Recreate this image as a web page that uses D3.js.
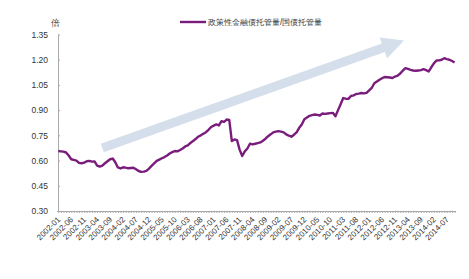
<!DOCTYPE html>
<html>
<head>
<meta charset="utf-8">
<script src="https://cdn.jsdelivr.net/npm/d3@7"></script>
<style>
  body { margin: 0; background: #fff; }
  svg text { font-family: "Liberation Sans", Arial, sans-serif; fill: #333; }
</style>
</head>
<body>
<svg id="svg" width="469" height="279"></svg>
<script>
// month labels 2002-01 .. 2014-10
var months = [];
for (var y = 2002; y <= 2014; y++) {
  for (var m = 1; m <= 12; m++) {
    if (y == 2014 && m > 10) break;
    months.push(y + "-" + (m < 10 ? "0" + m : m));
  }
}

var ratio = [
  0.657, 0.655, 0.653, 0.648, 0.630, 0.608, 0.604, 0.600, 0.586, 0.584,
  0.588, 0.596, 0.598, 0.594, 0.595, 0.570, 0.564, 0.570, 0.584, 0.596,
  0.608, 0.612, 0.590, 0.559, 0.553, 0.560, 0.558, 0.554, 0.556, 0.557,
  0.548, 0.538, 0.533, 0.534, 0.539, 0.552, 0.568, 0.583, 0.598, 0.606,
  0.614, 0.621, 0.630, 0.642, 0.650, 0.657, 0.655, 0.663, 0.672, 0.684,
  0.690, 0.705, 0.716, 0.728, 0.742, 0.750, 0.760, 0.769, 0.783, 0.800,
  0.808, 0.815, 0.809, 0.834, 0.830, 0.844, 0.842, 0.716, 0.726, 0.722,
  0.665, 0.627, 0.655, 0.672, 0.700, 0.696, 0.700, 0.704, 0.708, 0.718,
  0.730, 0.745, 0.756, 0.768, 0.772, 0.775, 0.772, 0.768, 0.756, 0.748,
  0.742, 0.754, 0.768, 0.795, 0.815, 0.846, 0.856, 0.866, 0.870, 0.874,
  0.872, 0.868, 0.880, 0.878, 0.880, 0.882, 0.884, 0.864, 0.900, 0.935,
  0.972, 0.968, 0.967, 0.984, 0.988, 0.996, 0.998, 1.002, 1.000, 1.003,
  1.018, 1.032, 1.060, 1.070, 1.081, 1.090, 1.097, 1.096, 1.094, 1.091,
  1.100, 1.105, 1.118, 1.135, 1.150, 1.145, 1.140, 1.136, 1.134, 1.136,
  1.138, 1.144, 1.138, 1.130, 1.155, 1.178, 1.195, 1.196, 1.200, 1.209,
  1.204, 1.200, 1.192, 1.183
];

var yTicks = [0.30, 0.45, 0.60, 0.75, 0.90, 1.05, 1.20, 1.35];
var seriesName = "政策性金融债托管量/国债托管量";
var unitLabel = "倍";
// trend arrow, in data terms: [month index, value]
var arrowFrom = [17, 0.675], arrowTo = [133.5, 1.315];

var svg = d3.select("#svg");

var x = d3.scalePoint()
    .domain(months)
    .range([58.3, 454.6]);

var y = d3.scaleLinear()
    .domain([0.30, 1.35])
    .range([211, 34.5]);

// trend arrow (behind the line)
var ax0 = x(months[arrowFrom[0]]), ay0 = y(arrowFrom[1]),
    ax1 = x(months[Math.floor(arrowTo[0])]) + (arrowTo[0] % 1) * x.step(), ay1 = y(arrowTo[1]);
var ang = Math.atan2(ay1 - ay0, ax1 - ax0);
var headLen = 22, headW = 11, shaftW = 4.5;
function pt(d, s) {
  return [ax0 + Math.cos(ang) * d - Math.sin(ang) * s,
          ay0 + Math.sin(ang) * d + Math.cos(ang) * s];
}
var L = Math.hypot(ax1 - ax0, ay1 - ay0);
var arrowPts = [pt(0, -shaftW), pt(L - headLen, -shaftW), pt(L - headLen, -headW),
                pt(L, 0), pt(L - headLen, headW), pt(L - headLen, shaftW), pt(0, shaftW)];
svg.append("polygon")
    .attr("points", arrowPts.map(function(p) { return p.join(","); }).join(" "))
    .attr("fill", "#d5dfeb");

// y axis
var yAxis = svg.append("g")
    .attr("transform", "translate(58,0)")
    .call(d3.axisRight(y).tickValues(yTicks).tickSize(2).tickFormat(d3.format(".2f")));
yAxis.select(".domain").attr("stroke", "#aaa").attr("d", "M0.5,34.5V211");
yAxis.selectAll(".tick line").attr("stroke", "#aaa");
yAxis.selectAll(".tick text")
    .attr("x", -10)
    .attr("text-anchor", "end")
    .attr("font-size", "8.5px")
    .attr("font-family", "Liberation Sans, Arial, sans-serif")
    .attr("fill", "#333");

// x axis
var xAxis = svg.append("g")
    .attr("transform", "translate(0,211)")
    .call(d3.axisBottom(x).tickSize(2).tickFormat(function(d, i) { return i % 5 == 0 ? d : ""; }));
xAxis.select(".domain").attr("stroke", "#aaa").attr("d", "M57,0.5H456");
xAxis.selectAll(".tick line").attr("stroke", "#aaa");
xAxis.selectAll(".tick text")
    .attr("font-size", "8px")
    .attr("font-family", "Liberation Sans, Arial, sans-serif")
    .attr("fill", "#333")
    .attr("text-anchor", "end")
    .attr("dy", null)
    .attr("y", 0)
    .attr("transform", "translate(2,9) rotate(-45)");

// series line
var line = d3.line()
    .x(function(d, i) { return x(months[i]); })
    .y(function(d) { return y(d); });

svg.append("path")
    .datum(ratio)
    .attr("fill", "none")
    .attr("stroke", "#7a1c7c")
    .attr("stroke-width", 2.4)
    .attr("stroke-linejoin", "round")
    .attr("d", line);

// unit label
svg.append("text")
    .attr("x", 55)
    .attr("y", 26)
    .attr("text-anchor", "middle")
    .attr("font-size", "9px")
    .attr("font-family", "Noto Sans CJK SC")
    .text(unitLabel);

// legend
var lg = svg.append("g").attr("transform", "translate(180,22)");
lg.append("line")
    .attr("x1", 0).attr("x2", 26)
    .attr("stroke", "#7a1c7c")
    .attr("stroke-width", 2.4);
lg.append("text")
    .attr("x", 28)
    .attr("y", 3)
    .attr("font-size", "8.4px")
    .attr("font-family", "Noto Sans CJK SC")
    .text(seriesName);
</script>
</body>
</html>
